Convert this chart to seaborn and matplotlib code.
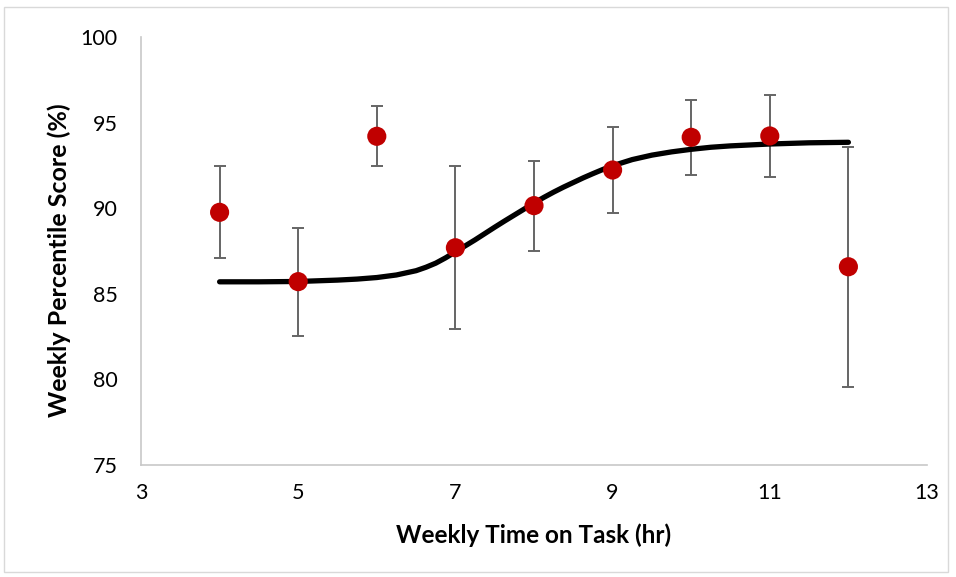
import matplotlib
matplotlib.use("Agg")
import matplotlib.pyplot as plt
import seaborn as sns
import pandas as pd
from matplotlib.patches import Rectangle

# Observed data
hours = [4, 5, 6, 7, 8, 9, 10, 11, 12]
score = [89.76, 85.71, 94.20, 87.69, 90.15, 92.23, 94.14, 94.22, 86.58]
err_low = [87.11, 82.55, 92.45, 82.94, 87.52, 89.74, 91.96, 91.80, 79.57]
err_high = [92.45, 88.84, 95.97, 92.45, 92.76, 94.72, 96.32, 96.63, 93.59]

# Fitted curve
fit_x = [4.0, 4.5, 5.0, 5.5, 5.75, 6.0, 6.25, 6.5, 6.625, 6.75, 6.875, 7.0,
         7.125, 7.25, 7.375, 7.5, 7.625, 7.75, 7.875, 8.0, 8.125, 8.25, 8.375,
         8.5, 8.625, 8.75, 8.875, 9.0, 9.25, 9.5, 9.75, 10.0, 10.25, 10.5,
         11.0, 11.5, 12.0]
fit_y = [85.70, 85.70, 85.72, 85.80, 85.86, 85.95, 86.10, 86.35, 86.55, 86.79,
         87.10, 87.45, 87.80, 88.15, 88.52, 88.89, 89.25, 89.60, 89.95, 90.30,
         90.63, 90.94, 91.23, 91.50, 91.77, 92.02, 92.26, 92.48, 92.84, 93.10,
         93.29, 93.44, 93.56, 93.64, 93.75, 93.82, 93.85]

x_ticks = [3, 5, 7, 9, 11, 13]
y_ticks = [75, 80, 85, 90, 95, 100]

sns.set_theme(style="white")
plt.rcParams["font.family"] = ["Lato", "DejaVu Sans"]

fig = plt.figure(figsize=(9.56, 5.77), dpi=100)
ax = fig.add_axes([141/956, 1-465/577, (927-141)/956, (465-37)/577])

df = pd.DataFrame({"hours": hours, "score": score})
fit = pd.DataFrame({"x": fit_x, "y": fit_y})

yerr = [[s - l for s, l in zip(score, err_low)], [h - s for s, h in zip(score, err_high)]]
ax.errorbar(hours, score, yerr=yerr, fmt="none", ecolor="#656565", elinewidth=1.4,
            capsize=4.3, capthick=1.4, zorder=2)
sns.lineplot(data=fit, x="x", y="y", ax=ax, color="black", linewidth=3.8,
             solid_capstyle="round", solid_joinstyle="round", zorder=3, sort=True)
sns.scatterplot(data=df, x="hours", y="score", ax=ax, color="#C00000", s=190,
                edgecolor="none", zorder=4)

ax.set_xlim(3, 13)
ax.set_ylim(75, 100)
ax.set_xticks(x_ticks)
ax.set_yticks(y_ticks)
ax.tick_params(axis="both", length=0, labelsize=15.5, colors="black")
ax.tick_params(axis="x", pad=13)
ax.tick_params(axis="y", pad=17)
for s in ["top", "right"]:
    ax.spines[s].set_visible(False)
for s in ["left", "bottom"]:
    ax.spines[s].set_color("#c8c8c8")
    ax.spines[s].set_linewidth(1.2)

ax.set_xlabel("Weekly Time on Task (hr)", fontsize=17.5, fontweight="bold", color="black")
ax.set_ylabel("Weekly Percentile Score (%)", fontsize=18, fontweight="bold", color="black")
ax.xaxis.label.set_va("center")
ax.yaxis.label.set_va("center")
ax.xaxis.set_label_coords(0.5, (465 - 535) / 428)
ax.yaxis.set_label_coords((59 - 141) / 786, (465 - 260) / 428)

fig.patches.append(Rectangle((4/956, 1-572/577), (948-4)/956, (572-7)/577,
                             transform=fig.transFigure, fill=False,
                             edgecolor="#d9d9d9", linewidth=1.0))

fig.savefig("out.png", dpi=100)
